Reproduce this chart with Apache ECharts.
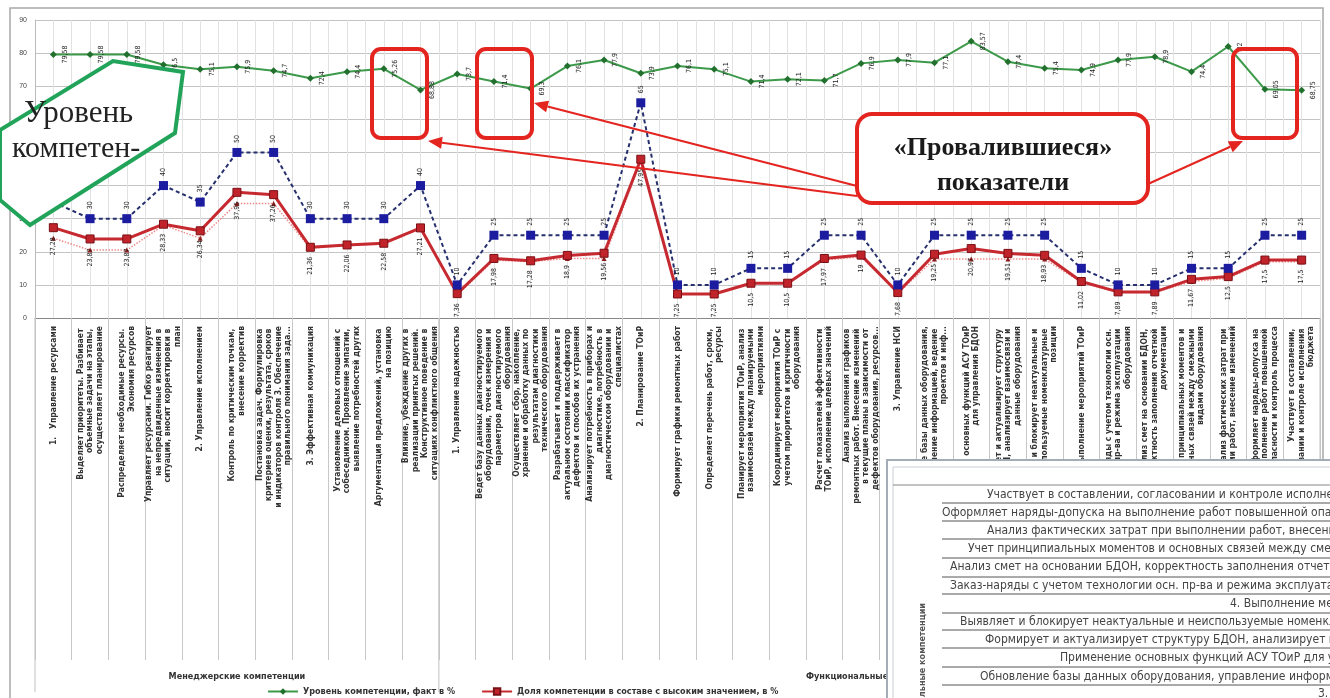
<!DOCTYPE html>
<html><head><meta charset="utf-8">
<script src="https://cdn.jsdelivr.net/npm/echarts@6/dist/echarts.min.js"></script>
<style>html,body{margin:0;padding:0;background:#fff;overflow:hidden}#c{width:1330px;height:698px}</style>
</head><body><div id="c"></div>
<script>
const categories = [
 '1.   Управление ресурсами',
 'Выделяет приоритеты. Разбивает объемные задачи на этапы, осуществляет планирование',
 'Распределяет необходимые ресурсы. Экономия ресурсов',
 'Управляет ресурсами. Гибко реагирует на непредвиденные изменения в ситуации, вносит корректировки в план',
 '2. Управление исполнением',
 'Контроль по критическим точкам, внесение корректив',
 'Постановка задач. Формулировка критериев оценки, результата, сроков и индикаторов контроля 3. Обеспечение правильного понимания зада...',
 '3. Эффективная коммуникация',
 'Установление деловых отношений с собеседником. Проявление эмпатии, выявление потребностей других',
 'Аргументация предложений, установка на позицию',
 'Влияние, убеждение других в реализации принятых решений. Конструктивное поведение в ситуациях конфликтного общения',
 '1. Управление надежностью',
 'Ведет базу данных диагностируемого оборудования, точек измерения и параметров диагностируемого оборудования',
 'Осуществляет сбор, накопление, хранение и обработку данных по результатам диагностики технического оборудования',
 'Разрабатывает и поддерживает в актуальном состоянии классификатор дефектов и способов их устранения',
 'Анализирует потребность в приборах и диагностике, потребность в диагностическом оборудовании и специалистах',
 '2. Планирование ТОиР',
 'Формирует графики ремонтных работ',
 'Определяет перечень работ, сроки, ресурсы',
 'Планирует мероприятия ТОиР, анализ взаимосвязей между планируемыми мероприятиями',
 'Координирует мероприятия ТОиР с учетом приоритетов и критичности оборудования',
 'Расчет показателей эффективности ТОиР, исполнение целевых значений',
 'Анализ выполнения графиков ремонтных работ. Внесение изменений в текущие планы в зависимости от дефектов оборудования, ресурсов...',
 '3. Управление НСИ',
 'Обновление базы данных оборудования, управление информацией, ведение проектов и инф...',
 'Применение основных функций АСУ ТОиР для управления БДОН',
 'Формирует и актуализирует структуру БДОН, анализирует взаимосвязи и данные оборудования',
 'Выявляет и блокирует неактуальные и неиспользуемые номенклатурные позиции',
 '4. Выполнение мероприятий ТОиР',
 'Заказ-наряды с учетом технологии осн. пр-ва и режима эксплуатации оборудования',
 'Анализ смет на основании БДОН, корректность заполнения отчетной документации',
 'Учет принципиальных моментов и основных связей между смежными видами оборудования',
 'Анализ фактических затрат при выполнении работ, внесение изменений',
 'Оформляет наряды-допуска на выполнение работ повышенной опасности и контроль процесса',
 'Участвует в составлении, согласовании и контроле исполнения бюджета'
];
const levelFact = [79.58,79.58,79.58,76.5,75.1,75.9,74.7,72.4,74.4,75.26,68.88,73.7,71.4,69.3,76.1,77.9,73.9,76.1,75.1,71.4,72.1,71.7,76.9,77.9,77.1,83.57,77.4,75.4,74.9,77.9,78.9,74.4,82,69.05,68.75];
const targetLevel = [35,30,30,40,35,50,50,30,30,30,40,10,25,25,25,25,65,10,10,15,15,25,25,10,25,25,25,25,15,10,10,15,15,25,25];
const shareHigh = [27.28,23.87,23.87,28.33,26.34,37.95,37.26,21.36,22.06,22.58,27.21,7.36,17.98,17.28,18.9,19.56,47.95,7.25,7.25,10.5,10.5,17.97,19.0,7.68,19.25,20.97,19.51,18.93,11.02,7.89,7.89,11.67,12.5,17.5,17.5];
const shareRef = [24.1,20.5,20.5,28.0,24.1,34.6,34.6,21.0,22.0,22.3,27.0,7.0,17.5,17.0,18.0,18.0,47.5,7.2,7.2,10.5,10.5,17.5,18.5,7.5,17.8,17.8,17.8,17.8,10.8,7.7,7.7,11.0,12.0,17.0,17.0];
const yTicks = {min:0, max:90, step:10};
const seriesNames = ['Уровень компетенции, факт в %','Доля компетенции в составе с высоким значением, в %','Целевой уровень, в %','Доля компетенции (эталон), в %'];
const groupNames = ['Менеджерские компетенции','Функциональные компетенции'];
const groupSizes = [11,24];
const tableRows = [
 'Участвует в составлении, согласовании и контроле исполнения бюджета',
 'Оформляет наряды-допуска на выполнение работ повышенной опасности',
 'Анализ фактических затрат при выполнении работ, внесение изменений',
 'Учет принципиальных моментов и основных связей между смежными',
 'Анализ смет на основании БДОН, корректность заполнения отчетной',
 'Заказ-наряды с учетом технологии осн. пр-ва и режима эксплуатации',
 '4. Выполнение мероприятий ТОиР',
 'Выявляет и блокирует неактуальные и неиспользуемые номенклатурные',
 'Формирует и актуализирует структуру БДОН, анализирует взаимосвязи',
 'Применение основных функций АСУ ТОиР для управления',
 'Обновление базы данных оборудования, управление информацией',
 '3. Управление НСИ'
];
const calloutText = ['«Провалившиеся»','показатели'];
const badgeText = ['Уровень','компетен-'];

const fmt = p => String(p.value).replace('.', ',');
const chart = echarts.init(document.getElementById('c'));
const lblBase = {show:true, rotate:90, fontSize:7, color:'#222', fontFamily:'Liberation Sans Narrow, DejaVu Sans Condensed, sans-serif', formatter:fmt};

chart.setOption({
  animation:false,
  backgroundColor:'#fff',
  grid:{left:35, right:10, top:20, bottom:380},
  legend:{data:[seriesNames[0],seriesNames[1]], left:262, top:682, itemWidth:30, itemHeight:8, itemGap:26,
    textStyle:{fontSize:9, color:'#333', fontWeight:'bold', fontFamily:'Liberation Sans Narrow, DejaVu Sans Condensed, sans-serif'}},
  xAxis:[{
    type:'category', data:categories, boundaryGap:true,
    axisLine:{lineStyle:{color:'#888', width:1}},
    axisTick:{show:true, length:342, interval:0, lineStyle:{color:'#c8c8c8'}},
    axisLabel:{interval:0, rotate:90, fontSize:8.5, fontWeight:'bold', color:'#333', margin:8, width:300, overflow:'break', lineHeight:9.5,
      fontFamily:'Liberation Sans Narrow, DejaVu Sans Condensed, sans-serif'},
    splitLine:{show:false}
  },{
    type:'value', min:0, max:70, interval:1, position:'top',
    axisLine:{show:false}, axisTick:{show:false}, axisLabel:{show:false},
    splitLine:{show:true, lineStyle:{color:'#e2e2e2', width:1}}
  }],
  yAxis:{type:'value', min:yTicks.min, max:yTicks.max, interval:yTicks.step,
    axisLine:{show:true, lineStyle:{color:'#bbb'}}, axisTick:{show:false},
    axisLabel:{fontSize:7, color:'#444', margin:8},
    splitLine:{lineStyle:{color:'#c4c4c4', width:1.2}}},
  series:[
    {name:seriesNames[3], type:'line', data:shareRef, z:2, symbol:'triangle', symbolSize:5,
      itemStyle:{color:'#8a1c1c'}, lineStyle:{color:'#f08a8a', width:1.5, type:'dotted'}},
    {name:seriesNames[1], type:'line', data:shareHigh, z:3, symbol:'rect', symbolSize:8,
      itemStyle:{color:'#c0232a', borderColor:'#7a1015', borderWidth:1},
      lineStyle:{color:'#c62a30', width:3},
      label:Object.assign({}, lblBase, {position:'bottom', distance:5, align:'right', verticalAlign:'middle'})},
    {name:seriesNames[2], type:'line', data:targetLevel, z:4, symbol:'rect', symbolSize:9,
      itemStyle:{color:'#1c1ca0'}, lineStyle:{color:'#27306e', width:2, type:[4,3]},
      label:Object.assign({}, lblBase, {position:'top', distance:5, align:'left', verticalAlign:'middle'})},
    {name:seriesNames[0], type:'line', data:levelFact, z:5, symbol:'diamond', symbolSize:7,
      itemStyle:{color:'#22702e'}, lineStyle:{color:'#3c9a4a', width:2},
      label:Object.assign({}, lblBase, {position:'right', distance:8, align:'center', verticalAlign:'middle'})}
  ]
});

// overlays
const px = i => chart.convertToPixel({xAxisIndex:0}, i);
const step = px(1) - px(0);
const x0 = px(0) - step/2;
const yZero = chart.convertToPixel({yAxisIndex:0}, 0);
const bnd = [x0, x0 + groupSizes[0]*step, x0 + (groupSizes[0]+groupSizes[1])*step];

function arrow(x1,y1,x2,y2){
  const a = Math.atan2(y2-y1, x2-x1), L=14, W=6;
  const bx = x2 - L*Math.cos(a), by = y2 - L*Math.sin(a);
  return [
    {type:'line', z:120, shape:{x1:x1,y1:y1,x2:bx,y2:by}, style:{stroke:'#e3241f', lineWidth:2}},
    {type:'polygon', z:120, shape:{points:[[x2,y2],[bx - W*Math.sin(a), by + W*Math.cos(a)],[bx + W*Math.sin(a), by - W*Math.cos(a)]]}, style:{fill:'#e3241f'}}
  ];
}
const rr = (x,y,w,h,r) => ({type:'rect', z:110, shape:{x:x,y:y,width:w,height:h,r:r}, style:{fill:null, stroke:'#e3241f', lineWidth:4}});

const g = [];
g.push({type:'rect', z:1, silent:true, shape:{x:10,y:8,width:1313,height:720}, style:{fill:null, stroke:'#a8a8a8', lineWidth:1.5}});
[bnd[0], bnd[1], bnd[2]].forEach(x => g.push({type:'line', z:3, shape:{x1:x,y1:yZero,x2:x,y2:692}, style:{stroke:'#c0c0c0', lineWidth:1}}));
groupNames.forEach((n,k) => g.push({type:'text', z:5, x:(bnd[k]+bnd[k+1])/2, y:677,
  style:{text:n, fontSize:9, fontWeight:'bold', fill:'#333', textAlign:'center', textVerticalAlign:'middle', fontFamily:'Liberation Sans Narrow, DejaVu Sans Condensed, sans-serif'}}));
g.push({type:'polygon', z:110, shape:{points:[[0,130],[113,61],[183,72],[175,133],[30,225],[0,200]]}, style:{fill:'#fff', stroke:'#21a45a', lineWidth:4}});
g.push({type:'text', z:111, x:24, y:114, style:{text:badgeText[0], font:'31px "Liberation Serif", serif', fill:'#222', textVerticalAlign:'middle'}});
g.push({type:'text', z:111, x:12, y:149, style:{text:badgeText[1], font:'30px "Liberation Serif", serif', fill:'#222', textVerticalAlign:'middle'}});
g.push(rr(372,49,55,89,9), rr(477,49,55,89,9), rr(1233,49,64,89,9));
g.push({type:'rect', z:112, shape:{x:857,y:114,width:291,height:89,r:15}, style:{fill:'#fff', stroke:'#e3241f', lineWidth:4}});
g.push({type:'text', z:113, x:1003, y:148, style:{text:calloutText[0], font:'bold 26px "Liberation Serif", serif', fill:'#1a1a1a', textAlign:'center', textVerticalAlign:'middle'}});
g.push({type:'text', z:113, x:1003, y:183, style:{text:calloutText[1], font:'bold 26px "Liberation Serif", serif', fill:'#1a1a1a', textAlign:'center', textVerticalAlign:'middle'}});
g.push(...arrow(857,196,428,141), ...arrow(857,186,534,103), ...arrow(1148,184,1243,141));
// table picture
g.push({type:'rect', z:130, shape:{x:887,y:460,width:460,height:250}, style:{fill:'#fff', stroke:'#a4acb8', lineWidth:2}});
g.push({type:'rect', z:131, shape:{x:893,y:467,width:450,height:240}, style:{fill:null, stroke:'#c9ced6', lineWidth:1}});
g.push({type:'line', z:131, shape:{x1:893,y1:485,x2:1330,y2:485}, style:{stroke:'#888', lineWidth:1}});
const rowLines = [503,521,539,558,577,594,613,630,648,667,685];
const rowTextY = [495,513,531,549,567,586,604,622,640,658,677,694];
const rowTextX = [987,942,987,968,950,950,1230,960,985,1060,980,1318];
rowLines.forEach(y => g.push({type:'line', z:131, shape:{x1:942,y1:y,x2:1330,y2:y}, style:{stroke:'#555', lineWidth:1}}));
tableRows.forEach((t,k) => g.push({type:'text', z:132, x:rowTextX[k], y:rowTextY[k],
  style:{text:t, font:'normal 12px "Liberation Sans Narrow", "DejaVu Sans Condensed", sans-serif', fill:'#444', textVerticalAlign:'middle'}}));
g.push({type:'text', z:132, x:923, y:603, rotation:Math.PI/2, style:{text:groupNames[1], fontSize:9, fontWeight:'bold', fill:'#555', textAlign:'right', textVerticalAlign:'middle', fontFamily:'Liberation Sans Narrow, DejaVu Sans Condensed, sans-serif'}});

chart.setOption({graphic:{elements:g}});
</script></body></html>
